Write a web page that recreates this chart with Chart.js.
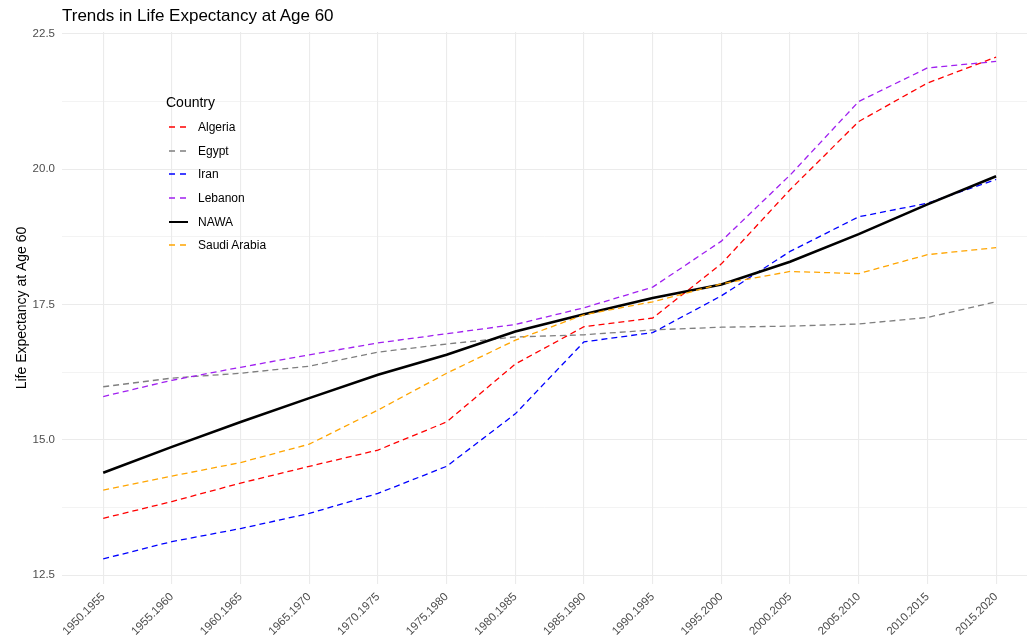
<!DOCTYPE html>
<html>
<head>
<meta charset="utf-8">
<script src="https://cdn.jsdelivr.net/npm/chart.js@4"></script>
<style>
  html, body { margin: 0; padding: 0; background: #fff; }
  #wrap { position: relative; width: 1027px; height: 641px; font-family: "Liberation Sans", Arial, Helvetica, sans-serif; }
  #title { position: absolute; left: 62px; top: 6px; font-size: 17px; color: #000; white-space: nowrap; }
  #legend { position: absolute; left: 166px; top: 92px; color: #000; }
  #legend .lt { font-size: 14px; height: 20px; line-height: 20px; margin-bottom: 3px; }
  #legend .item { height: 23.7px; display: flex; align-items: center; font-size: 12px; }
  #legend svg { margin-right: 10px; margin-left: 3px; }
</style>
</head>
<body>
<div id="wrap">
  <canvas id="c" width="1027" height="641"></canvas>
  <div id="title">Trends in Life Expectancy at Age 60</div>
  <div id="legend"></div>
</div>
<script>
const periods = ["1950.1955","1955.1960","1960.1965","1965.1970","1970.1975","1975.1980","1980.1985","1985.1990","1990.1995","1995.2000","2000.2005","2005.2010","2010.2015","2015.2020"];
const countries = ["Algeria","Egypt","Iran","Lebanon","NAWA","Saudi Arabia"];
const algeria = [13.55,13.86,14.20,14.51,14.81,15.33,16.40,17.09,17.25,18.25,19.62,20.88,21.59,22.07];
const egypt   = [15.98,16.14,16.23,16.36,16.62,16.77,16.90,16.94,17.03,17.08,17.10,17.14,17.26,17.55];
const iran    = [12.80,13.12,13.36,13.64,14.01,14.51,15.48,16.81,16.98,17.66,18.48,19.12,19.37,19.81];
const lebanon = [15.80,16.10,16.34,16.57,16.79,16.96,17.13,17.44,17.82,18.67,19.89,21.25,21.87,21.99];
const nawa    = [14.39,14.87,15.33,15.77,16.20,16.57,17.00,17.32,17.62,17.87,18.29,18.80,19.35,19.87];
const saudi   = [14.07,14.33,14.58,14.92,15.55,16.23,16.84,17.31,17.55,17.88,18.11,18.07,18.42,18.55];
const yMajorTicks = [12.5, 15.0, 17.5, 20.0, 22.5];
const yMinorTicks = [13.75, 16.25, 18.75, 21.25];

const seriesValues = [algeria, egypt, iran, lebanon, nawa, saudi];
const colors = ["#FF0000", "#7F7F7F", "#0000FF", "#A020F0", "#000000", "#FFA500"];
const solid = [false, false, false, false, true, false];

const allVals = seriesValues.flat();
const dMin = Math.min(...allVals), dMax = Math.max(...allVals);
const pad = (dMax - dMin) * 0.05;

const datasets = countries.map((name, i) => ({
  label: name,
  data: seriesValues[i].map((v, j) => ({ x: j, y: v })),
  borderColor: colors[i],
  backgroundColor: colors[i],
  borderWidth: solid[i] ? 2.6 : 1.3,
  borderDash: solid[i] ? [] : [6, 4],
  pointRadius: 0,
  pointHoverRadius: 0,
  tension: 0,
  fill: false,
  order: countries.length - i
}));

const allYTicks = [...yMajorTicks, ...yMinorTicks].sort((a, b) => a - b);
const tickFont = { family: '"Liberation Sans", Arial, sans-serif', size: 11.5 };

new Chart(document.getElementById('c'), {
  type: 'line',
  data: { datasets },
  options: {
    responsive: false,
    animation: false,
    layout: { padding: { top: 32, left: 0, right: 0, bottom: 0 } },
    plugins: { legend: { display: false }, tooltip: { enabled: false }, title: { display: false } },
    scales: {
      x: {
        type: 'linear',
        min: -0.6,
        max: 13.45,
        afterBuildTicks: (s) => { s.ticks = periods.map((p, i) => ({ value: i })); },
        afterFit: (s) => { s.height = 57; },
        grid: { color: '#EBEBEB', lineWidth: 1.1, drawTicks: false },
        border: { display: false },
        ticks: {
          autoSkip: false,
          minRotation: 45,
          maxRotation: 45,
          padding: 6,
          color: '#4D4D4D',
          font: tickFont,
          callback: (v) => periods[v] ?? ''
        }
      },
      y: {
        type: 'linear',
        min: dMin - pad,
        max: dMax + pad,
        afterBuildTicks: (s) => { s.ticks = allYTicks.map(v => ({ value: v })); },
        afterFit: (s) => { s.width = 62; },
        grid: {
          color: '#EBEBEB',
          drawTicks: false,
          lineWidth: (ctx) => (ctx.tick && yMajorTicks.includes(ctx.tick.value)) ? 1.1 : 0.6
        },
        border: { display: false },
        title: {
          display: true,
          text: 'Life Expectancy at Age 60',
          color: '#000',
          font: { family: '"Liberation Sans", Arial, sans-serif', size: 14 },
          padding: { top: 14, bottom: 4 }
        },
        ticks: {
          autoSkip: false,
          padding: 7,
          color: '#4D4D4D',
          font: tickFont,
          callback: (v) => yMajorTicks.includes(v) ? v.toFixed(1) : ''
        }
      }
    }
  }
});

// HTML legend built from the datasets
const lg = document.getElementById('legend');
const t = document.createElement('div');
t.className = 'lt';
t.textContent = 'Country';
lg.appendChild(t);
datasets.forEach(ds => {
  const row = document.createElement('div');
  row.className = 'item';
  const ns = 'http://www.w3.org/2000/svg';
  const svg = document.createElementNS(ns, 'svg');
  svg.setAttribute('width', '19');
  svg.setAttribute('height', '10');
  const ln = document.createElementNS(ns, 'line');
  ln.setAttribute('x1', '0'); ln.setAttribute('x2', '19');
  ln.setAttribute('y1', '5'); ln.setAttribute('y2', '5');
  ln.setAttribute('stroke', ds.borderColor);
  ln.setAttribute('stroke-width', ds.borderDash.length ? 1.4 : 2);
  if (ds.borderDash.length) ln.setAttribute('stroke-dasharray', '6 5');
  svg.appendChild(ln);
  const sp = document.createElement('span');
  sp.textContent = ds.label;
  row.appendChild(svg);
  row.appendChild(sp);
  lg.appendChild(row);
});
</script>
</body>
</html>
